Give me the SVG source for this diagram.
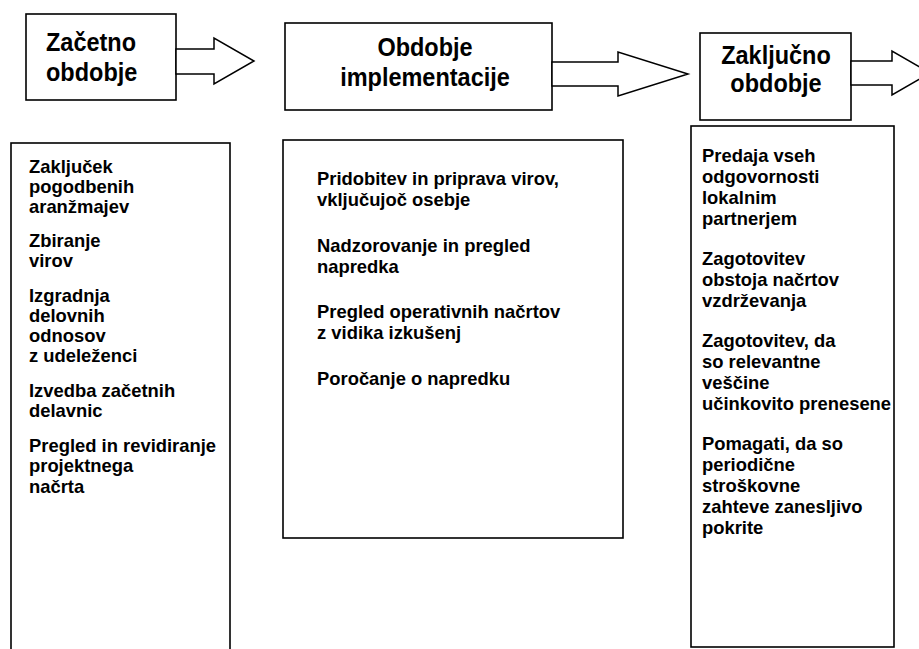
<svg xmlns="http://www.w3.org/2000/svg" width="919" height="649" viewBox="0 0 919 649">
  <style>
    .box { fill: #ffffff; stroke: #000000; stroke-width: 1.6; }
    .arrow { fill: #ffffff; stroke: #000000; stroke-width: 1.5; stroke-linejoin: miter; }
    .phase { font-family: "Liberation Sans", Arial, sans-serif; font-weight: bold; font-size: 23.5px; fill: #000000; }
    .item { font-family: "Liberation Sans", Arial, sans-serif; font-weight: bold; font-size: 18.4px; fill: #000000; }
  </style>
  <rect width="919" height="649" fill="#ffffff"/>

  <!-- phase headers (labels slightly stretched vertically) -->
  <g id="phase-start">
    <rect class="box" x="26" y="14" width="150" height="86"/>
    <text class="phase" transform="translate(46,51) scale(1,1.12)">Začetno</text>
    <text class="phase" transform="translate(46,81) scale(1,1.12)">obdobje</text>
  </g>
  <g id="phase-implementation">
    <rect class="box" x="285" y="23" width="267" height="87"/>
    <text class="phase" text-anchor="middle" transform="translate(425,56) scale(1,1.12)">Obdobje</text>
    <text class="phase" text-anchor="middle" transform="translate(425,86) scale(1,1.12)">implementacije</text>
  </g>
  <g id="phase-closing">
    <rect class="box" x="700" y="33" width="151" height="87"/>
    <text class="phase" text-anchor="middle" transform="translate(776,64) scale(1,1.12)">Zaključno</text>
    <text class="phase" text-anchor="middle" transform="translate(776,92) scale(1,1.12)">obdobje</text>
  </g>

  <!-- block arrows between phases -->
  <g id="connectors">
    <polygon class="arrow" points="176,49 214,49 214,38 254,61 214,84 214,74 176,74"/>
    <polygon class="arrow" points="552,62 618,62 618,52 688,74 618,96 618,86 552,86"/>
    <polygon class="arrow" points="851,61 892,61 892,51 930,73 892,95 892,85 851,85"/>
  </g>

  <!-- activity lists -->
  <g id="list-start">
    <rect class="box" x="11" y="143" width="219" height="520"/>
    <text class="item" x="29" y="173">Zaključek</text>
    <text class="item" x="29" y="193">pogodbenih</text>
    <text class="item" x="29" y="213">aranžmajev</text>
    <text class="item" x="29" y="247">Zbiranje</text>
    <text class="item" x="29" y="267">virov</text>
    <text class="item" x="29" y="302">Izgradnja</text>
    <text class="item" x="29" y="322">delovnih</text>
    <text class="item" x="29" y="342">odnosov</text>
    <text class="item" x="29" y="362">z udeleženci</text>
    <text class="item" x="29" y="397">Izvedba začetnih</text>
    <text class="item" x="29" y="417">delavnic</text>
    <text class="item" x="29" y="452">Pregled in revidiranje</text>
    <text class="item" x="29" y="472">projektnega</text>
    <text class="item" x="29" y="493">načrta</text>
  </g>

  <g id="list-implementation">
    <rect class="box" x="283" y="140" width="340" height="398"/>
    <text class="item" x="317" y="185">Pridobitev in priprava virov,</text>
    <text class="item" x="317" y="206">vključujoč osebje</text>
    <text class="item" x="317" y="252">Nadzorovanje in pregled</text>
    <text class="item" x="317" y="273">napredka</text>
    <text class="item" x="317" y="318">Pregled operativnih načrtov</text>
    <text class="item" x="317" y="339">z vidika izkušenj</text>
    <text class="item" x="317" y="385">Poročanje o napredku</text>
  </g>

  <g id="list-closing">
    <rect class="box" x="691" y="126" width="203" height="521"/>
    <text class="item" x="702" y="162">Predaja vseh</text>
    <text class="item" x="702" y="183">odgovornosti</text>
    <text class="item" x="702" y="204">lokalnim</text>
    <text class="item" x="702" y="225">partnerjem</text>
    <text class="item" x="702" y="265">Zagotovitev</text>
    <text class="item" x="702" y="286">obstoja načrtov</text>
    <text class="item" x="702" y="307">vzdrževanja</text>
    <text class="item" x="702" y="347">Zagotovitev, da</text>
    <text class="item" x="702" y="368">so relevantne</text>
    <text class="item" x="702" y="389">veščine</text>
    <text class="item" x="702" y="410">učinkovito prenesene</text>
    <text class="item" x="702" y="450">Pomagati, da so</text>
    <text class="item" x="702" y="471">periodične</text>
    <text class="item" x="702" y="492">stroškovne</text>
    <text class="item" x="702" y="513">zahteve zanesljivo</text>
    <text class="item" x="702" y="534">pokrite</text>
  </g>
</svg>
